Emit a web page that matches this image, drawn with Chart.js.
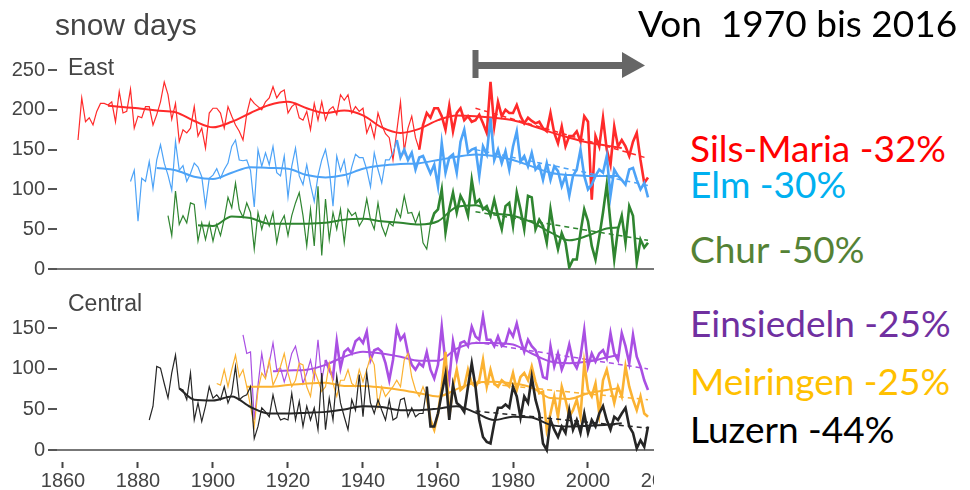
<!DOCTYPE html>
<html>
<head>
<meta charset="utf-8">
<script src="https://cdn.jsdelivr.net/npm/chart.js@4.4.0/dist/chart.umd.min.js"></script>
<style>
  body { margin: 0; background: #fff; width: 970px; height: 490px; position: relative; overflow: hidden; }
  .wrap { position: absolute; left: 0; width: 654px; overflow: hidden; }
  .lbl { position: absolute; white-space: nowrap; line-height: 1; }
  .sans { font-family: "Liberation Sans", Arial, sans-serif; color: #444; }
  .big { font-family: Lato, "Open Sans", sans-serif; font-size: 37px; }
</style>
</head>
<body>
<div class="wrap" style="top:0;height:286px"><canvas id="east" width="700" height="286"></canvas></div>
<div class="wrap" style="top:290px;height:200px"><canvas id="central" width="700" height="200"></canvas></div>

<div class="lbl sans" style="left:55px;top:10px;font-size:30px">snow days</div>
<div class="lbl sans" style="left:68px;top:56px;font-size:23px">East</div>
<div class="lbl sans" style="left:68px;top:292px;font-size:23px">Central</div>

<div class="lbl big" style="left:638px;top:4px;color:#000">Von&nbsp; 1970 bis 2016</div>
<div class="lbl big" style="left:690px;top:129px;color:#ff0000">Sils-Maria -32%</div>
<div class="lbl big" style="left:690px;top:165px;color:#00b0f0">Elm -30%</div>
<div class="lbl big" style="left:690px;top:230px;color:#548235">Chur -50%</div>
<div class="lbl big" style="left:690px;top:304px;color:#7030a0">Einsiedeln -25%</div>
<div class="lbl big" style="left:690px;top:362px;color:#ffc000">Meiringen -25%</div>
<div class="lbl big" style="left:690px;top:410px;color:#000">Luzern -44%</div>

<script>
// tick labels
const xTicks = [1860, 1880, 1900, 1920, 1940, 1960, 1980, 2000, 2020];
const yTicksEast = [0, 50, 100, 150, 200, 250];
const yTicksCentral = [0, 50, 100, 150];
const trendYears = [1970, 2016];
const arrowYears = [1970, 2016];

// Sils-Maria, annual snow days from 1864
const silsStart = 1864;
const sils = [162, 215, 185, 190, 181, 198,
  208, 208, 206, 210, 185, 223, 196, 198, 226, 177,
  192, 190, 204, 204, 181, 194, 210, 235, 219, 188,
  208, 160, 175, 171, 177, 204, 167, 177, 152, 196,
  202, 202, 196, 177, 204, 192, 181, 173, 162, 195,
  214, 208, 204, 200, 210, 215, 229, 215, 222, 225,
  196, 204, 208, 190, 187, 198, 175, 208, 187, 210,
  187, 200, 204, 194, 219, 212, 219, 196, 204, 198,
  202, 171, 183, 165, 196, 181, 170, 165, 137, 173,
  210, 148, 177, 192, 165, 150, 181, 196, 190, 202,
  202, 192, 175, 205, 173, 196, 202, 187, 192, 185,
  187, 194, 183, 171, 235, 179, 210, 192, 200, 196,
  196, 206, 192, 183, 190, 186, 183, 185, 177, 173,
  196, 171, 158, 179, 154, 167, 167, 173, 160, 192,
  185, 87, 167, 154, 190, 150, 131, 179, 154, 162,
  154, 142, 160, 171, 137, 108, 115];
const silsSmoothYears = [1872, 1875, 1880, 1885, 1890, 1895, 1900, 1905, 1910, 1915, 1920, 1925, 1930, 1935, 1940, 1945, 1950, 1955, 1960, 1965, 1970, 1975, 1980, 1985, 1990, 1995, 2000, 2005, 2009];
const silsSmooth = [205, 204, 202, 199, 197, 186, 178, 185, 196, 206, 210, 202, 196, 199, 193, 178, 171, 176, 187, 193, 192, 190, 187, 180, 172, 165, 159, 155, 152];
const silsTrend = [202, 139];

// Elm from 1878
const elmStart = 1878;
const elm = [110, 124,
  60, 114, 110, 135, 101, 137, 156, 133, 118, 99,
  160, 124, 130, 110, 120, 133, 128, 116, 79, 114,
  118, 126, 114, 125, 133, 154, 162, 137, 136, 137,
  124, 78, 150, 129, 146, 131, 154, 121, 117, 142,
  90, 129, 152, 117, 106, 131, 106, 85, 117, 137,
  150, 125, 79, 142, 123, 137, 106, 128, 144, 140,
  140, 125, 103, 146, 125, 108, 137, 137, 146, 162,
  140, 150, 137, 146, 125, 140, 142, 131, 120, 131,
  104, 158, 121, 140, 144, 121, 160, 175, 146, 150,
  152, 117, 154, 144, 190, 137, 150, 133, 148, 125,
  154, 173, 135, 142, 129, 146, 125, 131, 112, 133,
  112, 129, 123, 104, 117, 92, 117, 125, 150, 117,
  100, 106, 117, 125, 121, 142, 92, 125, 117, 112,
  106, 125, 127, 112, 100, 108, 90];
const elmSmoothYears = [1885, 1890, 1895, 1900, 1905, 1910, 1915, 1920, 1925, 1930, 1935, 1940, 1945, 1950, 1955, 1960, 1965, 1970, 1975, 1980, 1985, 1990, 1995, 2000, 2005, 2008];
const elmSmooth = [127, 124, 116, 113, 121, 128, 127, 126, 118, 115, 118, 126, 130, 132, 133, 137, 141, 144, 142, 137, 129, 121, 118, 117, 117, 117];
const elmTrend = [150, 105];

// Chur from 1888
const churStart = 1888;
const chur = [67, 42,
  98, 56, 67, 58, 83, 81, 35, 58, 37, 58,
  35, 56, 42, 63, 90, 77, 108, 75, 65, 83,
  71, 25, 71, 50, 67, 54, 71, 33, 58, 67,
  42, 67, 83, 96, 67, 29, 75, 29, 104, 17,
  88, 37, 71, 50, 75, 33, 75, 67, 71, 54,
  62, 88, 62, 50, 83, 54, 42, 58, 54, 75,
  65, 92, 70, 71, 58, 71, 33, 25, 56, 70,
  75, 100, 46, 75, 96, 71, 92, 83, 67, 112,
  83, 87, 75, 79, 67, 87, 67, 50, 79, 83,
  54, 96, 75, 50, 92, 90, 50, 62, 54, 33,
  75, 46, 25, 45, 33, 2, 12, 12, 46, 75,
  60, 29, 12, 40, 71, 106, 58, 12, 50, 67,
  33, 79, 67, 8, 37, 27, 33];
const churSmoothYears = [1896, 1900, 1905, 1910, 1915, 1920, 1925, 1930, 1935, 1940, 1945, 1950, 1955, 1960, 1965, 1970, 1975, 1980, 1985, 1990, 1995, 2000, 2005, 2008];
const churSmooth = [55, 54, 66, 64, 57, 57, 57, 58, 62, 63, 60, 58, 56, 60, 78, 80, 70, 67, 59, 46, 36, 42, 51, 52];
const churTrend = [72, 36];

// Einsiedeln from 1908
const einsStart = 1908;
const eins = [142, 119,
  121, 37, 80, 119, 90, 107, 132, 99, 101, 84,
  99, 119, 128, 107, 82, 95, 111, 88, 136, 86,
  111, 99, 90, 134, 101, 121, 125, 119, 134, 138,
  132, 146, 111, 123, 125, 121, 107, 86, 111, 150,
  136, 142, 119, 105, 99, 107, 103, 121, 99, 88,
  105, 152, 107, 86, 134, 111, 132, 134, 128, 152,
  140, 136, 165, 136, 136, 128, 140, 128, 132, 148,
  140, 156, 136, 121, 136, 128, 123, 111, 90, 88,
  128, 103, 119, 99, 111, 130, 109, 101, 115, 148,
  103, 119, 109, 119, 123, 113, 144, 119, 111, 144,
  128, 107, 142, 115, 103, 86, 74];
const einsSmoothYears = [1916, 1920, 1925, 1930, 1935, 1940, 1945, 1950, 1955, 1960, 1965, 1970, 1975, 1980, 1985, 1990, 1995, 2000, 2005, 2008];
const einsSmooth = [97, 98, 99, 105, 115, 121, 119, 115, 110, 110, 125, 132, 132, 130, 119, 109, 107, 109, 114, 117];
const einsTrend = [133, 100];

// Meiringen from 1901
const meirStart = 1901;
const meir = [82, 80, 99, 78, 99, 117, 90, 99, 78,
  54, 29, 74, 95, 88, 111, 80, 90, 103, 119,
  95, 78, 86, 107, 105, 78, 66, 99, 86, 72,
  78, 107, 82, 66, 86, 86, 99, 82, 78, 99,
  84, 99, 115, 105, 54, 78, 66, 72, 78, 86,
  78, 111, 119, 90, 74, 66, 78, 66, 37, 25,
  45, 78, 121, 41, 78, 99, 74, 78, 99, 82,
  78, 86, 111, 78, 99, 82, 78, 86, 82, 78,
  95, 74, 90, 95, 86, 103, 84, 70, 72, 25,
  45, 66, 41, 78, 62, 41, 49, 62, 41, 107,
  74, 66, 82, 45, 86, 99, 78, 58, 78, 66,
  103, 78, 62, 49, 66, 45, 41];
const meirSmoothYears = [1909, 1915, 1920, 1925, 1930, 1935, 1940, 1945, 1950, 1955, 1960, 1965, 1970, 1975, 1980, 1985, 1990, 1995, 2000, 2005, 2008];
const meirSmooth = [78, 78, 80, 82, 83, 79, 79, 77, 74, 70, 66, 75, 83, 84, 82, 77, 64, 63, 70, 74, 76];
const meirTrend = [83, 62];

// Luzern from 1883
const luzStart = 1883;
const luz = [37, 54, 103, 101, 82, 64, 95,
  117, 76, 74, 62, 95, 37, 58, 35, 54, 78,
  64, 68, 62, 78, 58, 70, 103, 62, 66, 68,
  78, 14, 29, 52, 47, 41, 68, 47, 37, 39,
  37, 70, 37, 60, 29, 54, 37, 52, 25, 95,
  25, 64, 37, 91, 58, 41, 25, 62, 49, 93,
  41, 95, 58, 45, 62, 49, 37, 62, 37, 40,
  62, 64, 41, 52, 41, 45, 45, 78, 29, 29,
  45, 70, 93, 37, 80, 58, 54, 47, 78, 107,
  78, 37, 16, 10, 8, 33, 52, 52, 56, 52,
  78, 66, 40, 66, 58, 90, 62, 45, 8, 0,
  37, 25, 16, 29, 21, 49, 25, 37, 21, 45,
  21, 37, 29, 45, 54, 37, 25, 41, 37, 45,
  52, 29, 21, 2, 12, 4, 29];
const luzSmoothYears = [1891, 1895, 1900, 1905, 1910, 1915, 1920, 1925, 1930, 1935, 1940, 1945, 1950, 1955, 1960, 1965, 1970, 1975, 1980, 1985, 1990, 1995, 2000, 2005, 2009];
const luzSmooth = [76, 62, 61, 66, 53, 45, 45, 46, 47, 50, 54, 53, 49, 49, 51, 54, 46, 37, 41, 40, 31, 29, 30, 31, 33];
const luzTrend = [48, 27];

function station(color, start, vals, thickFrom, smYears, smVals, trend) {
  return [
    {
      data: vals.map((v, i) => ({ x: start + i, y: v })),
      borderColor: color, borderWidth: 1.2, pointRadius: 0, tension: 0,
      segment: { borderWidth: c => c.p0.parsed.x >= thickFrom ? 2.6 : 1.2 }
    },
    {
      data: smYears.map((y, i) => ({ x: y, y: smVals[i] })),
      borderColor: color, borderWidth: 2, pointRadius: 0, cubicInterpolationMode: 'monotone'
    },
    {
      data: trendYears.map((y, i) => ({ x: y, y: trend[i] })),
      borderColor: color, borderWidth: 1.5, borderDash: [5, 4], pointRadius: 0
    }
  ];
}

const tickFont = { family: 'Liberation Sans, Arial, sans-serif', size: 20 };

function yAxis(min, max, ticks) {
  return {
    min: min, max: max,
    afterBuildTicks: s => { s.ticks = ticks.map(v => ({ value: v })); },
    afterFit: s => { s.width = 57; },
    border: { display: false },
    grid: {
      drawOnChartArea: true, drawTicks: true, tickLength: 9,
      color: c => c.tick && c.tick.value === 0 ? '#777' : 'rgba(0,0,0,0)',
      lineWidth: 2, tickColor: '#555', tickWidth: 2
    },
    ticks: { font: tickFont, color: '#444', padding: 3 }
  };
}

const arrowPlugin = {
  id: 'arrow',
  afterDraw(chart) {
    const ctx = chart.ctx, xs = chart.scales.x;
    const x0 = xs.getPixelForValue(arrowYears[0]);
    const tip = xs.getPixelForValue(arrowYears[1]) - 3;
    ctx.save();
    ctx.fillStyle = '#666';
    ctx.fillRect(x0 - 3, 50, 6, 28);
    ctx.fillRect(x0, 62, tip - 22 - x0, 7);
    ctx.beginPath();
    ctx.moveTo(tip - 23, 52);
    ctx.lineTo(tip, 65.5);
    ctx.lineTo(tip - 23, 78);
    ctx.closePath();
    ctx.fill();
    ctx.restore();
  }
};

const common = {
  responsive: false, animation: false, events: [],
  plugins: { legend: { display: false }, tooltip: { enabled: false } }
};

new Chart(document.getElementById('east'), {
  type: 'line',
  data: {
    datasets: [
      ...station('#2f8530', churStart, chur, 1958, churSmoothYears, churSmooth, churTrend),
      ...station('#4da3f7', elmStart, elm, 1949, elmSmoothYears, elmSmooth, elmTrend),
      ...station('#ff2a2a', silsStart, sils, 1955, silsSmoothYears, silsSmooth, silsTrend)
    ]
  },
  options: {
    ...common,
    layout: { padding: { top: 60, bottom: 17, left: 0, right: 37 } },
    scales: {
      x: { type: 'linear', min: 1858.4, max: 2020, display: false },
      y: yAxis(0, 262.6, yTicksEast)
    }
  },
  plugins: [arrowPlugin]
});

new Chart(document.getElementById('central'), {
  type: 'line',
  data: {
    datasets: [
      ...station('#262626', luzStart, luz, 1957, luzSmoothYears, luzSmooth, luzTrend),
      ...station('#fbb232', meirStart, meir, 1957, meirSmoothYears, meirSmooth, meirTrend),
      ...station('#a94fe3', einsStart, eins, 1930, einsSmoothYears, einsSmooth, einsTrend)
    ]
  },
  options: {
    ...common,
    layout: { padding: { top: 20, bottom: 0, left: 0, right: 37 } },
    scales: {
      x: {
        type: 'linear', min: 1858.4, max: 2020,
        afterBuildTicks: s => { s.ticks = xTicks.map(v => ({ value: v })); },
        afterFit: s => { s.height = 28; },
        border: { display: false },
        grid: { drawOnChartArea: false, drawTicks: true, tickLength: 6, tickColor: '#444', tickWidth: 2 },
        ticks: { font: tickFont, color: '#444', padding: 1, maxRotation: 0, autoSkip: false, callback: v => String(v) }
      },
      y: yAxis(-14.8, 172.6, yTicksCentral)
    }
  }
});
</script>
</body>
</html>
